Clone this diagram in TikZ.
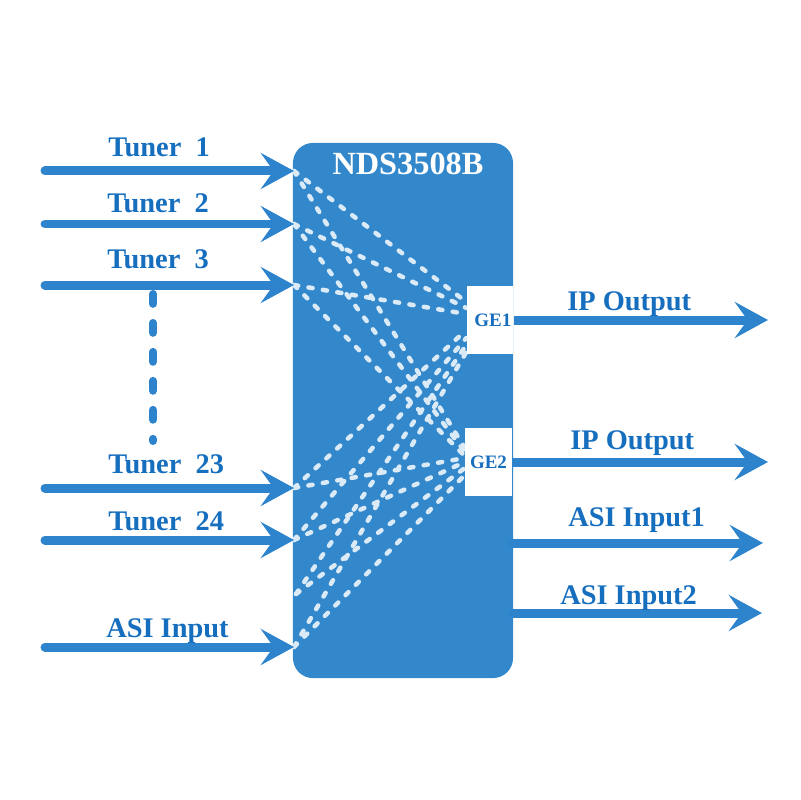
\documentclass[tikz,border=0pt]{standalone}
\usepackage{fontspec}
\setmainfont{Liberation Serif}
\usetikzlibrary{arrows.meta}

\definecolor{boxblue}{RGB}{51,136,204}
\definecolor{feedblue}{RGB}{46,132,204}
\definecolor{textblue}{RGB}{22,110,190}
\definecolor{dashwhite}{RGB}{218,234,247}

\tikzset{
  feed/.style={feedblue, line width=6.4pt, line cap=round,
    -{Stealth[length=0.83cm,width=0.9cm,inset=0.32cm]}},
  outfeed/.style={feed, line cap=butt},
  matrixline/.style={dashwhite, line width=3.2pt, line cap=round,
    dash pattern=on 3pt off 7.4pt},
  lbl/.style={text=textblue, font=\fontsize{20.2}{23}\selectfont\bfseries,
    inner sep=0pt, anchor=base west},
  gebox/.style={fill=white, inner sep=0pt, minimum width=1.17cm,
    minimum height=1.72cm, text=textblue, font=\fontsize{13.5}{15}\selectfont\bfseries},
}

\begin{document}
\begin{tikzpicture}[x=0.025cm,y=-0.025cm]
    \useasboundingbox (0,0) rectangle (800,800);

    % device
    \node[fill=boxblue, rounded corners=0.5cm, minimum width=5.5cm,
      minimum height=13.375cm, inner sep=0pt] (nds) at (403,410.5) {};
    \node[white, font=\fontsize{23}{26}\selectfont\bfseries, inner sep=0pt,
      anchor=base] (title) at (408,175) {NDS3508B};

    % inputs on the device
    \coordinate (t1) at (294,171);
    \coordinate (t2) at (294,224);
    \coordinate (t3) at (294,285);
    \coordinate (t23) at (294,488);
    \coordinate (t24) at (294,540);
    \coordinate (tx) at (296,594);
    \coordinate (asi) at (294,647);

    \node[gebox] (GE1) at (490,320) {};
    \node[gebox] (GE2) at (488.5,462) {};

    % switching
    \foreach \src/\ya/\yb in {t1/-18/-14, t2/-12/-10, t3/-6/-6, t23/10/-4,
        t24/18/0, tx/25/6, asi/32/13} {
      \draw[matrixline] (\src) -- ([shift={(0,\ya)}]GE1.west);
      \draw[matrixline] (\src) -- ([shift={(0,\yb)}]GE2.west);
    }

    \node[gebox] at (GE1) {\hspace*{4pt}GE1};
    \node[gebox] at (GE2) {GE2};

    % left feeds
    \coordinate (t1s) at (45,171);
    \coordinate (t2s) at (45,224);
    \coordinate (t3s) at (45,285);
    \coordinate (t23s) at (45,488);
    \coordinate (t24s) at (45,540);
    \coordinate (asis) at (45,647);
    \draw[feed] (t1s) -- (t1);
    \draw[feed] (t2s) -- (t2);
    \draw[feed] (t3s) -- (t3);
    \draw[feed] (t23s) -- (t23);
    \draw[feed] (t24s) -- (t24);
    \draw[feed] (asis) -- (asi);
    \draw[feedblue, line width=5.7pt, line cap=round, dash pattern=on 7pt off 13.6pt]
      (153,294) -- (153,441);

    \node[lbl] (l1) at (108,157) {Tuner~~1};
    \node[lbl] (l2) at (107,213) {Tuner~~2};
    \node[lbl] (l3) at (107,268) {Tuner~~3};
    \node[lbl] (l23) at (108,473) {Tuner~~23};
    \node[lbl] (l24) at (108,530) {Tuner~~24};
    \node[lbl] (lasi) at (106,637) {ASI Input};

    % right feeds
    \coordinate (ip1) at (768,320);
    \coordinate (ip2) at (768,462);
    \coordinate (a1s) at (513,543);
    \coordinate (a1) at (763,543);
    \coordinate (a2s) at (513,613);
    \coordinate (a2) at (762,613);
    \draw[outfeed] (GE1.east) -- (ip1);
    \draw[outfeed] (GE2.east) -- (ip2);
    \draw[feed] (a1s) -- (a1);
    \draw[feed] (a2s) -- (a2);

    \node[lbl] (r1) at (567,310) {IP Output};
    \node[lbl] (r2) at (570,449) {IP Output};
    \node[lbl] (r3) at (568,526) {ASI Input1};
    \node[lbl] (r4) at (560,604) {ASI Input2};
\end{tikzpicture}
\end{document}
